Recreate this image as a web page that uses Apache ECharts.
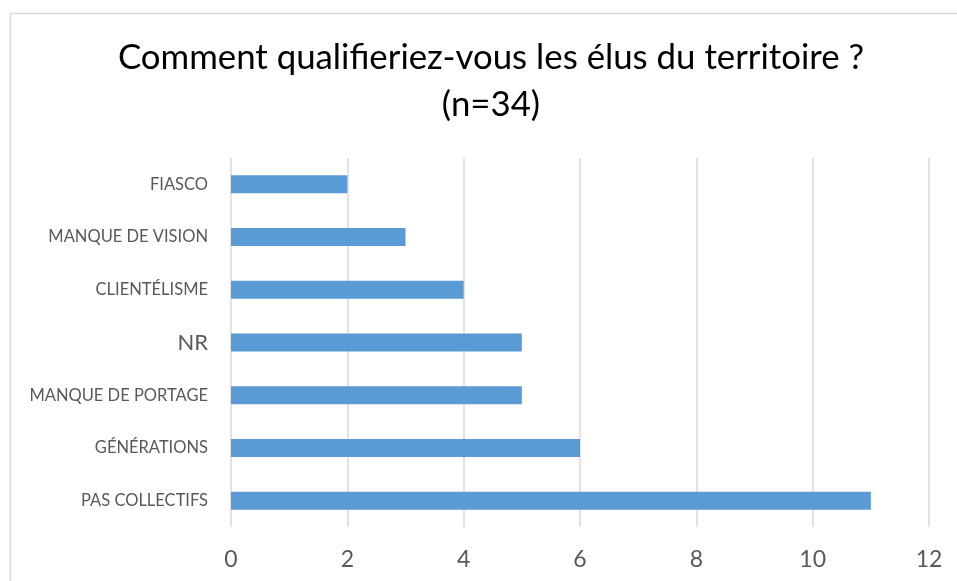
<!DOCTYPE html>
<html><head><meta charset="utf-8">
<script src="https://cdn.jsdelivr.net/npm/echarts@6/dist/echarts.min.js"></script>
<style>html,body{margin:0;padding:0;background:#fff}#c{width:957px;height:581px}</style>
</head><body><div id="c"></div>
<script>
const categories = ['PAS COLLECTIFS','GÉNÉRATIONS','MANQUE DE PORTAGE','NR','CLIENTÉLISME','MANQUE DE VISION','FIASCO'];
const values = [11,6,5,5,4,3,2];
const titleText = 'Comment qualifieriez-vous les élus du territoire ?\n(n=34)';
const FONT = 'Lato, "Open Sans", sans-serif';

const chart = echarts.init(document.getElementById('c'), null, {renderer:'canvas'});
chart.setOption({
  animation:false,
  graphic:[{type:'rect',shape:{x:10.5,y:13.5,width:1000,height:1000},style:{fill:'none',stroke:'#d9d9d9',lineWidth:1.5},silent:true}],
  title:{text:titleText,left:486,top:29,textAlign:'center',
    textStyle:{fontFamily:FONT,fontSize:34.8,fontWeight:'normal',color:'#000',lineHeight:47}},
  grid:{left:231,top:158,right:28,bottom:54,containLabel:false},
  xAxis:{type:'value',min:0,max:12,interval:2,
    axisLine:{show:false},axisTick:{show:false},
    splitLine:{lineStyle:{color:'#d9d9d9',width:1.5}},
    axisLabel:{fontFamily:FONT,fontSize:23,color:'#595959',margin:21}},
  yAxis:{type:'category',data:categories,
    axisLine:{show:false},axisTick:{show:false},splitLine:{show:false},
    axisLabel:{fontFamily:FONT,fontSize:16.5,color:'#595959',margin:23,
      formatter:v=> v==='NR' ? '{big|'+v+'}' : v,
      rich:{big:{fontFamily:FONT,fontSize:22,color:'#595959'}}}},
  series:[{type:'bar',data:values,barWidth:18,itemStyle:{color:'#5b9bd5'}}]
});
</script></body></html>
